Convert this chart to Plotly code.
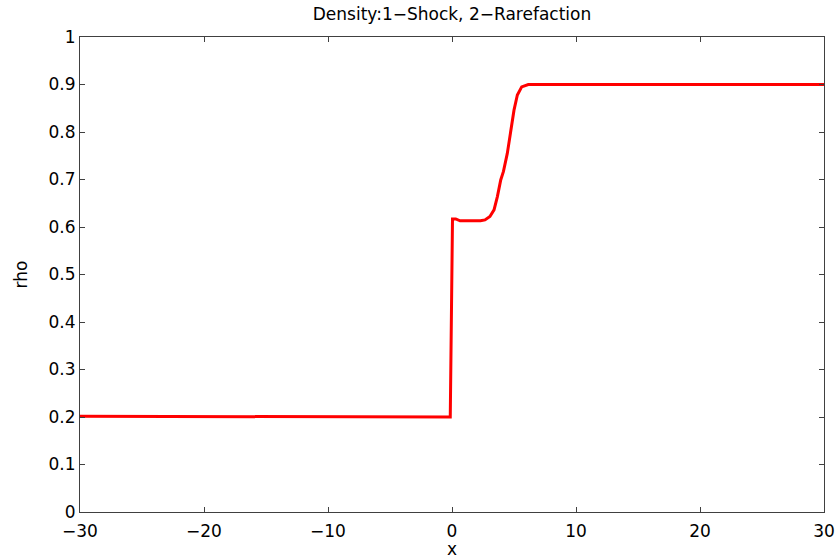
import plotly.graph_objects as go

# Density profile: left state, shock, middle state, rarefaction fan, right state
x_vals = [-30, -14.5, -14.5, -0.3, -0.14, 0.04, 0.3, 0.65, 1.0, 2.3, 2.66, 3.06,
          3.39, 3.66, 3.93, 4.15, 4.46, 4.73, 5.0, 5.27, 5.62, 6.15, 15, 30]
rho_vals = [0.2015, 0.2015, 0.2, 0.2, 0.2, 0.617, 0.617, 0.613, 0.613, 0.613, 0.615, 0.622,
            0.636, 0.664, 0.699, 0.717, 0.755, 0.804, 0.846, 0.878, 0.895, 0.9, 0.9, 0.9]

x_ticks = [-30, -20, -10, 0, 10, 20, 30]
y_ticks = [0, 0.1, 0.2, 0.3, 0.4, 0.5, 0.6, 0.7, 0.8, 0.9, 1]
y_tick_text = ["0", "0.1", "0.2", "0.3", "0.4", "0.5", "0.6", "0.7", "0.8", "0.9", "1"]

font_family = "DejaVu Sans, Liberation Sans, sans-serif"
font_size = 17

fig = go.Figure()
fig.add_trace(go.Scatter(
    x=x_vals, y=rho_vals, mode="lines",
    line=dict(color="#ff0000", width=3),
    showlegend=False, hoverinfo="skip",
))

axis_common = dict(
    showgrid=False, zeroline=False, automargin=False,
    showline=True, linecolor="#404040", linewidth=1.2, mirror="ticks",
    ticks="inside", ticklen=5, tickcolor="#404040", tickwidth=1,
    tickfont=dict(family=font_family, size=font_size, color="#000000"),
)

fig.update_layout(
    width=839, height=559,
    margin=dict(l=80, r=15, t=37, b=47),
    paper_bgcolor="white", plot_bgcolor="white",
    title=dict(
        text="Density:1\u2212Shock, 2\u2212Rarefaction",
        x=(80 + 824) / 2 / 839, xanchor="center",
        y=1 - 14 / 559, yanchor="middle",
        font=dict(family=font_family, size=font_size, color="#000000"),
    ),
    xaxis=dict(
        range=[-30, 30], tickvals=x_ticks,
        ticktext=[str(v).replace("-", "\u2212") for v in x_ticks],
        ticklabelstandoff=3,
        title=dict(text="x", standoff=2,
                   font=dict(family=font_family, size=font_size, color="#000000")),
        **axis_common,
    ),
    yaxis=dict(
        range=[0, 1], tickvals=y_ticks, ticktext=y_tick_text,
        title=dict(text="rho", standoff=16,
                   font=dict(family=font_family, size=font_size, color="#000000")),
        **axis_common,
    ),
)

fig.write_html("out.html")
